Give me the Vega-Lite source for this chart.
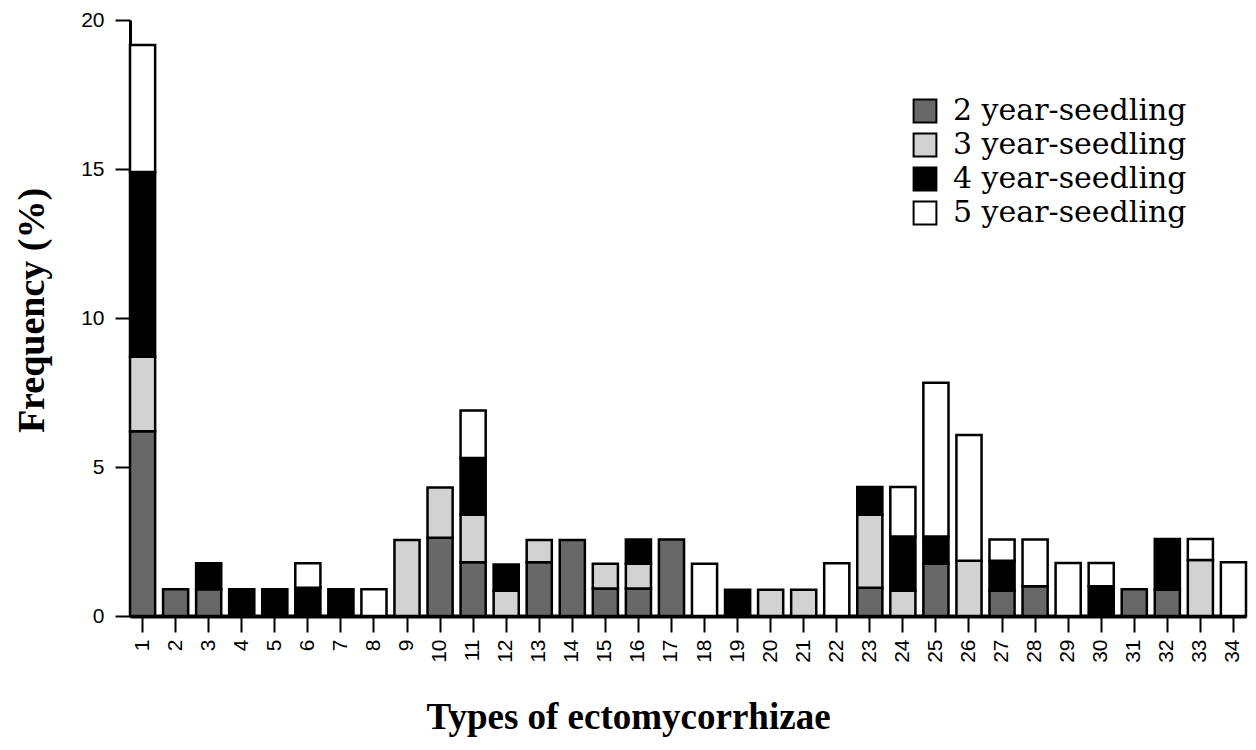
{
  "$schema": "https://vega.github.io/schema/vega-lite/v6.json",
  "width": 1116,
  "height": 596,
  "autosize": {"type": "none"},
  "padding": {"left": 130, "top": 20, "right": 10, "bottom": 134},
  "background": "white",
  "config": {"view": {"stroke": null}},
  "data": {"values": [
    {"type": 1, "age": "2 year-seedling", "freq": 6.2},
    {"type": 1, "age": "3 year-seedling", "freq": 2.5},
    {"type": 1, "age": "4 year-seedling", "freq": 6.2},
    {"type": 1, "age": "5 year-seedling", "freq": 4.26},
    {"type": 2, "age": "2 year-seedling", "freq": 0.9},
    {"type": 3, "age": "2 year-seedling", "freq": 0.9},
    {"type": 3, "age": "4 year-seedling", "freq": 0.87},
    {"type": 4, "age": "4 year-seedling", "freq": 0.9},
    {"type": 5, "age": "4 year-seedling", "freq": 0.9},
    {"type": 6, "age": "4 year-seedling", "freq": 0.95},
    {"type": 6, "age": "5 year-seedling", "freq": 0.82},
    {"type": 7, "age": "4 year-seedling", "freq": 0.9},
    {"type": 8, "age": "5 year-seedling", "freq": 0.9},
    {"type": 9, "age": "3 year-seedling", "freq": 2.55},
    {"type": 10, "age": "2 year-seedling", "freq": 2.63},
    {"type": 10, "age": "3 year-seedling", "freq": 1.68},
    {"type": 11, "age": "2 year-seedling", "freq": 1.8},
    {"type": 11, "age": "3 year-seedling", "freq": 1.6},
    {"type": 11, "age": "4 year-seedling", "freq": 1.9},
    {"type": 11, "age": "5 year-seedling", "freq": 1.6},
    {"type": 12, "age": "3 year-seedling", "freq": 0.85},
    {"type": 12, "age": "4 year-seedling", "freq": 0.88},
    {"type": 13, "age": "2 year-seedling", "freq": 1.8},
    {"type": 13, "age": "3 year-seedling", "freq": 0.75},
    {"type": 14, "age": "2 year-seedling", "freq": 2.55},
    {"type": 15, "age": "2 year-seedling", "freq": 0.92},
    {"type": 15, "age": "3 year-seedling", "freq": 0.83},
    {"type": 16, "age": "2 year-seedling", "freq": 0.92},
    {"type": 16, "age": "3 year-seedling", "freq": 0.83},
    {"type": 16, "age": "4 year-seedling", "freq": 0.82},
    {"type": 17, "age": "2 year-seedling", "freq": 2.57},
    {"type": 18, "age": "5 year-seedling", "freq": 1.75},
    {"type": 19, "age": "4 year-seedling", "freq": 0.88},
    {"type": 20, "age": "3 year-seedling", "freq": 0.88},
    {"type": 21, "age": "3 year-seedling", "freq": 0.88},
    {"type": 22, "age": "5 year-seedling", "freq": 1.77},
    {"type": 23, "age": "2 year-seedling", "freq": 0.95},
    {"type": 23, "age": "3 year-seedling", "freq": 2.45},
    {"type": 23, "age": "4 year-seedling", "freq": 0.93},
    {"type": 24, "age": "3 year-seedling", "freq": 0.85},
    {"type": 24, "age": "4 year-seedling", "freq": 1.82},
    {"type": 24, "age": "5 year-seedling", "freq": 1.66},
    {"type": 25, "age": "2 year-seedling", "freq": 1.75},
    {"type": 25, "age": "4 year-seedling", "freq": 0.92},
    {"type": 25, "age": "5 year-seedling", "freq": 5.16},
    {"type": 26, "age": "3 year-seedling", "freq": 1.85},
    {"type": 26, "age": "5 year-seedling", "freq": 4.22},
    {"type": 27, "age": "2 year-seedling", "freq": 0.85},
    {"type": 27, "age": "4 year-seedling", "freq": 1.0},
    {"type": 27, "age": "5 year-seedling", "freq": 0.72},
    {"type": 28, "age": "2 year-seedling", "freq": 1.0},
    {"type": 28, "age": "5 year-seedling", "freq": 1.57},
    {"type": 29, "age": "5 year-seedling", "freq": 1.78},
    {"type": 30, "age": "4 year-seedling", "freq": 1.0},
    {"type": 30, "age": "5 year-seedling", "freq": 0.78},
    {"type": 31, "age": "2 year-seedling", "freq": 0.9},
    {"type": 32, "age": "2 year-seedling", "freq": 0.88},
    {"type": 32, "age": "4 year-seedling", "freq": 1.7},
    {"type": 33, "age": "3 year-seedling", "freq": 1.88},
    {"type": 33, "age": "5 year-seedling", "freq": 0.7},
    {"type": 34, "age": "5 year-seedling", "freq": 1.8}
  ]},
  "mark": {"type": "bar", "stroke": "black", "strokeWidth": 2.5, "opacity": 1},
  "encoding": {
    "x": {
      "field": "type", "type": "ordinal",
      "scale": {"paddingInner": 0.24, "paddingOuter": 0},
      "axis": {
        "title": "Types of ectomycorrhizae",
        "titleFont": "Liberation Serif", "titleFontSize": 37, "titleFontWeight": "bold", "titleColor": "black",
        "titleX": 498, "titleY": 112, "titleBaseline": "alphabetic", "titleAlign": "center", "titleAnchor": null,
        "labelAngle": -90, "labelFont": "Liberation Sans", "labelFontSize": 21, "labelColor": "black", "labelPadding": 7,
        "tickSize": 16, "tickWidth": 2, "tickColor": "black",
        "domainColor": "black", "domainWidth": 4
      }
    },
    "y": {
      "field": "freq", "type": "quantitative", "aggregate": "sum", "stack": "zero",
      "scale": {"domain": [0, 20], "nice": false},
      "axis": {
        "title": "Frequency (%)",
        "titleFont": "Liberation Serif", "titleFontSize": 38, "titleFontWeight": "bold", "titleColor": "black",
        "titleX": -87, "titleY": 290, "titleBaseline": "alphabetic", "titleAlign": "center", "titleAngle": -90,
        "values": [0, 5, 10, 15, 20], "grid": false,
        "labelFont": "Liberation Sans", "labelFontSize": 21, "labelColor": "black", "labelPadding": 11,
        "tickSize": 15, "tickWidth": 2, "tickColor": "black",
        "domainColor": "black", "domainWidth": 3
      }
    },
    "color": {
      "field": "age", "type": "nominal",
      "scale": {
        "domain": ["2 year-seedling", "3 year-seedling", "4 year-seedling", "5 year-seedling"],
        "range": ["#686868", "#d2d2d2", "#000000", "#ffffff"]
      },
      "legend": {
        "title": null, "orient": "none", "legendX": 780, "legendY": 76,
        "symbolType": "square", "symbolSize": 520, "symbolStrokeColor": "black", "symbolStrokeWidth": 2,
        "symbolOpacity": 1,
        "labelFont": "DejaVu Serif", "labelFontSize": 30, "labelColor": "black", "labelOffset": 13,
        "rowPadding": 2, "labelLimit": 400
      }
    },
    "order": {"field": "age", "sort": "ascending"}
  }
}
